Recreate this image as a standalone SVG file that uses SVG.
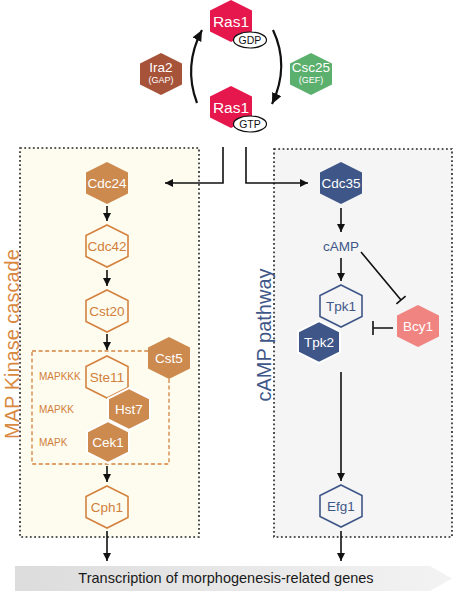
<svg xmlns="http://www.w3.org/2000/svg" xmlns:xlink="http://www.w3.org/1999/xlink" width="454" height="592" viewBox="0 0 454 592">
<style>
text{font-family:"Liberation Sans",Arial,sans-serif;}
.box{stroke:#222;stroke-width:1.6;stroke-dasharray:1.8 2.5;}
.mapk{fill:#fefcee;}
.camp{fill:#f5f5f5;}
.inner{fill:none;stroke:#d3823f;stroke-width:1.3;stroke-dasharray:4 2.6;}
.orF{fill:#cd8a4f;}
.orO{fill:none;stroke:#d3823f;stroke-width:1.6;}
.nvF{fill:#3f5788;}
.nvO{fill:none;stroke:#3f5788;stroke-width:1.6;}
.wS{stroke:#fff;stroke-width:2;}
.lbl{font-size:13.5px;text-anchor:middle;}
.w{fill:#fff;}
.or{fill:#d07f3c;}
.nv{fill:#3f5788;}
.side{font-size:10px;fill:#d07f3c;}
.conn{fill:none;stroke:#111;stroke-width:1.6;}
.arc{fill:none;stroke:#111;stroke-width:2.2;}
</style>
<defs>
<path id="hex" d="M0,-21 L21,-10.5 L21,10.5 L0,21 L-21,10.5 L-21,-10.5Z"/>
<marker id="ah" markerUnits="userSpaceOnUse" markerWidth="9" markerHeight="9" refX="8" refY="4" orient="auto">
<path d="M0,0 L8,4 L0,8z" fill="#111"/>
</marker>
<marker id="ahB" markerUnits="userSpaceOnUse" markerWidth="12" markerHeight="12" refX="11" refY="5" orient="auto">
<path d="M0,0 L11,5 L0,10z" fill="#111"/>
</marker>
<linearGradient id="bg" x1="0" x2="1" y1="0" y2="0">
<stop offset="0" stop-color="#dcdcdc"/>
<stop offset="1" stop-color="#f3f3f3"/>
</linearGradient>
</defs>

<g id="mapk-box">
<rect class="box mapk" x="20" y="148" width="179" height="389"/>
<text x="19" y="344" transform="rotate(-90 19 344)" font-size="20" fill="#d9893f" text-anchor="middle">MAP Kinase cascade</text>
</g>
<g id="camp-box">
<rect class="box camp" x="274" y="149" width="178" height="388"/>
<text x="271" y="335" transform="rotate(-90 271 335)" font-size="20" fill="#3f5788" text-anchor="middle">cAMP pathway</text>
</g>
<g id="mapk-module">
<rect class="inner" x="32" y="351" width="137" height="113"/>
<text class="side" x="39" y="380">MAPKKK</text>
<text class="side" x="39" y="413">MAPKK</text>
<text class="side" x="39" y="446">MAPK</text>
</g>

<g id="connectors">
<path class="arc" d="M197,103 Q183,66 202,30" marker-end="url(#ahB)"/>
<path class="arc" d="M273,30 Q290,66 272,104" marker-end="url(#ahB)"/>
<path class="conn" d="M223,147 V183 H165" marker-end="url(#ah)"/>
<path class="conn" d="M246,147 V183 H308" marker-end="url(#ah)"/>
<path class="conn" d="M107,206 V221" marker-end="url(#ah)"/>
<path class="conn" d="M107,270 V286" marker-end="url(#ah)"/>
<path class="conn" d="M107,334 V350" marker-end="url(#ah)"/>
<path class="conn" d="M107,466 V482" marker-end="url(#ah)"/>
<path class="conn" d="M107,531 V561" marker-end="url(#ah)"/>
<path class="conn" d="M341,208 V232" marker-end="url(#ah)"/>
<path class="conn" d="M341,258 V281" marker-end="url(#ah)"/>
<path class="conn" d="M341,372 V481" marker-end="url(#ah)"/>
<path class="conn" d="M341,531 V561" marker-end="url(#ah)"/>
<path class="conn" d="M361,252 L401,300 M396.4,303.8 L405.6,296.2"/>
<path class="conn" d="M393,328 H373 M373,321 V335"/>
</g>

<g id="ras1-gdp">
<use xlink:href="#hex" x="231" y="21" fill="#e5174c"/>
<text class="lbl w" x="231" y="27" style="font-size:15.5px">Ras1</text>
<ellipse cx="250" cy="40" rx="16.5" ry="8" fill="#fff" stroke="#111" stroke-width="1.2"/>
<text x="250" y="44" font-size="10.5" text-anchor="middle" fill="#111">GDP</text>
</g>
<g id="ras1-gtp">
<use xlink:href="#hex" x="231" y="107" fill="#e5174c"/>
<text class="lbl w" x="231" y="113" style="font-size:15.5px">Ras1</text>
<ellipse cx="250" cy="124" rx="16.5" ry="8" fill="#fff" stroke="#111" stroke-width="1.2"/>
<text x="250" y="128" font-size="10.5" text-anchor="middle" fill="#111">GTP</text>
</g>
<g id="ira2">
<use xlink:href="#hex" x="161" y="74" fill="#a6533a"/>
<text class="lbl w" x="161" y="72">Ira2</text>
<text x="161" y="83" font-size="9" text-anchor="middle" fill="#fff">(GAP)</text>
</g>
<g id="csc25">
<use xlink:href="#hex" x="311" y="74" fill="#5bb06e"/>
<text class="lbl w" x="311" y="72">Csc25</text>
<text x="311" y="83" font-size="9" text-anchor="middle" fill="#fff">(GEF)</text>
</g>

<g id="cdc24">
<use xlink:href="#hex" x="107" y="183" class="orF"/>
<text class="lbl w" x="107" y="188">Cdc24</text>
</g>
<g id="cdc42">
<use xlink:href="#hex" x="107" y="246" class="orO"/>
<text class="lbl or" x="107" y="251">Cdc42</text>
</g>
<g id="cst20">
<use xlink:href="#hex" x="107" y="311" class="orO"/>
<text class="lbl or" x="107" y="316">Cst20</text>
</g>
<g id="cst5">
<use xlink:href="#hex" x="169" y="358" class="orF"/>
<text class="lbl w" x="169" y="363">Cst5</text>
</g>
<g id="ste11">
<use xlink:href="#hex" x="107" y="377" class="orO"/>
<text class="lbl or" x="107" y="382">Ste11</text>
</g>
<g id="hst7">
<use xlink:href="#hex" x="129" y="409" class="orF wS"/>
<text class="lbl w" x="129" y="414">Hst7</text>
</g>
<g id="cek1">
<use xlink:href="#hex" x="108" y="442" class="orF wS"/>
<text class="lbl w" x="108" y="447">Cek1</text>
</g>
<g id="cph1">
<use xlink:href="#hex" x="107" y="507" class="orO"/>
<text class="lbl or" x="107" y="512">Cph1</text>
</g>

<g id="cdc35">
<use xlink:href="#hex" x="341" y="183" class="nvF"/>
<text class="lbl w" x="341" y="188">Cdc35</text>
</g>
<g id="camp">
<text class="lbl nv" x="341" y="251">cAMP</text>
</g>
<g id="tpk1">
<use xlink:href="#hex" x="341" y="306" class="nvO"/>
<text class="lbl nv" x="341" y="311">Tpk1</text>
</g>
<g id="tpk2">
<use xlink:href="#hex" x="319" y="342" class="nvF wS"/>
<text class="lbl w" x="319" y="347">Tpk2</text>
</g>
<g id="bcy1">
<use xlink:href="#hex" x="418" y="326" fill="#f08481"/>
<text class="lbl w" x="418" y="331">Bcy1</text>
</g>
<g id="efg1">
<use xlink:href="#hex" x="341" y="506" class="nvO"/>
<text class="lbl nv" x="341" y="511">Efg1</text>
</g>

<g id="transcription">
<polygon points="15,566 430,566 452,578.5 430,591 15,591" fill="url(#bg)"/>
<text x="226" y="583" font-size="14.5" text-anchor="middle" fill="#1a1a1a">Transcription of morphogenesis-related genes</text>
</g>
</svg>
